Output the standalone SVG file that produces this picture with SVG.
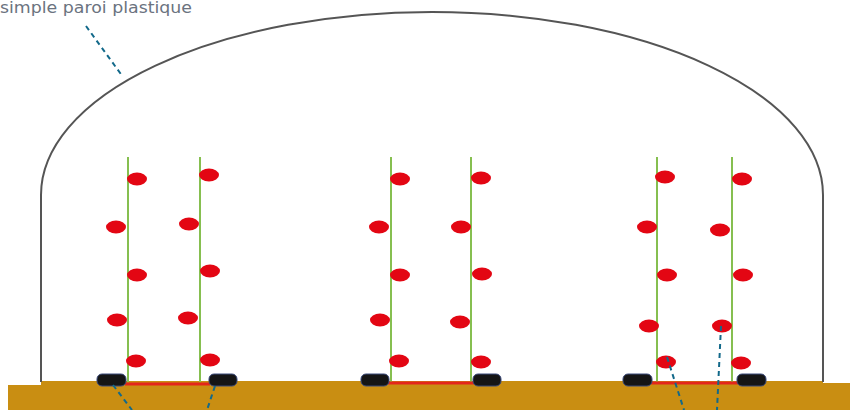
<svg xmlns="http://www.w3.org/2000/svg" width="850" height="410" viewBox="0 0 850 410">
<defs>
<style>
.wall{fill:none;stroke:#555;stroke-width:2}
.ground{fill:#c98e12}
.stem{stroke:#86bf50;stroke-width:2}
.fruit{fill:#e30613}
.pipe{fill:#151515;stroke:#3b4a7a;stroke-width:1}
.drip{stroke:#e3261b;stroke-width:3}
.lead{stroke:#12698a;stroke-width:2;stroke-dasharray:5,4;fill:none}
.lbl{font-family:"DejaVu Sans","Liberation Sans",sans-serif;font-size:15px;fill:#6b7380}
</style>
</defs>
<g id="ground">
<path class="ground" d="M8,385 H41 V381 H823 V383 H850 V410 H8 Z"/>
</g>
<g id="greenhouse">
<path class="wall" d="M41,382 V195 A391,183 0 0 1 823,195 V382"/>
</g>
<g id="row1">
<line class="stem" x1="128" y1="157" x2="128" y2="382"/>
<line class="stem" x1="200" y1="157" x2="200" y2="382"/>
<ellipse class="fruit" cx="137" cy="179" rx="10" ry="6.5"/>
<ellipse class="fruit" cx="116" cy="227" rx="10" ry="6.5"/>
<ellipse class="fruit" cx="137" cy="275" rx="10" ry="6.5"/>
<ellipse class="fruit" cx="117" cy="320" rx="10" ry="6.5"/>
<ellipse class="fruit" cx="136" cy="361" rx="10" ry="6.5"/>
<ellipse class="fruit" cx="209" cy="175" rx="10" ry="6.5"/>
<ellipse class="fruit" cx="189" cy="224" rx="10" ry="6.5"/>
<ellipse class="fruit" cx="210" cy="271" rx="10" ry="6.5"/>
<ellipse class="fruit" cx="188" cy="318" rx="10" ry="6.5"/>
<ellipse class="fruit" cx="210" cy="360" rx="10" ry="6.5"/>
<line class="drip" x1="125" y1="384" x2="210" y2="384"/>
<rect class="pipe" x="97" y="374" width="29" height="12" rx="5"/>
<rect class="pipe" x="209" y="374" width="28" height="12" rx="5"/>
</g>
<g id="row2">
<line class="stem" x1="391" y1="157" x2="391" y2="382"/>
<line class="stem" x1="471" y1="157" x2="471" y2="382"/>
<ellipse class="fruit" cx="400" cy="179" rx="10" ry="6.5"/>
<ellipse class="fruit" cx="379" cy="227" rx="10" ry="6.5"/>
<ellipse class="fruit" cx="400" cy="275" rx="10" ry="6.5"/>
<ellipse class="fruit" cx="380" cy="320" rx="10" ry="6.5"/>
<ellipse class="fruit" cx="399" cy="361" rx="10" ry="6.5"/>
<ellipse class="fruit" cx="481" cy="178" rx="10" ry="6.5"/>
<ellipse class="fruit" cx="461" cy="227" rx="10" ry="6.5"/>
<ellipse class="fruit" cx="482" cy="274" rx="10" ry="6.5"/>
<ellipse class="fruit" cx="460" cy="322" rx="10" ry="6.5"/>
<ellipse class="fruit" cx="481" cy="362" rx="10" ry="6.5"/>
<line class="drip" x1="388" y1="383" x2="474" y2="383"/>
<rect class="pipe" x="361" y="374" width="28" height="12" rx="5"/>
<rect class="pipe" x="473" y="374" width="28" height="12" rx="5"/>
</g>
<g id="row3">
<line class="stem" x1="657" y1="157" x2="657" y2="382"/>
<line class="stem" x1="732" y1="157" x2="732" y2="382"/>
<ellipse class="fruit" cx="665" cy="177" rx="10" ry="6.5"/>
<ellipse class="fruit" cx="647" cy="227" rx="10" ry="6.5"/>
<ellipse class="fruit" cx="667" cy="275" rx="10" ry="6.5"/>
<ellipse class="fruit" cx="649" cy="326" rx="10" ry="6.5"/>
<ellipse class="fruit" cx="666" cy="362" rx="10" ry="6.5"/>
<ellipse class="fruit" cx="742" cy="179" rx="10" ry="6.5"/>
<ellipse class="fruit" cx="720" cy="230" rx="10" ry="6.5"/>
<ellipse class="fruit" cx="743" cy="275" rx="10" ry="6.5"/>
<ellipse class="fruit" cx="722" cy="326" rx="10" ry="6.5"/>
<ellipse class="fruit" cx="741" cy="363" rx="10" ry="6.5"/>
<line class="drip" x1="651" y1="383" x2="738" y2="383"/>
<rect class="pipe" x="623" y="374" width="29" height="12" rx="5"/>
<rect class="pipe" x="737" y="374" width="29" height="12" rx="5"/>
</g>
<g id="label">
<text class="lbl" x="0" y="13" textLength="192" lengthAdjust="spacingAndGlyphs">simple paroi plastique</text>
</g>
<g id="connectors">
<line class="lead" x1="86" y1="26" x2="123" y2="77"/>
<line class="lead" x1="113" y1="385" x2="132" y2="410"/>
<line class="lead" x1="215" y1="386" x2="207" y2="410"/>
<line class="lead" x1="667" y1="357" x2="684" y2="410"/>
<line class="lead" x1="721" y1="326" x2="717" y2="410"/>
</g>
</svg>
